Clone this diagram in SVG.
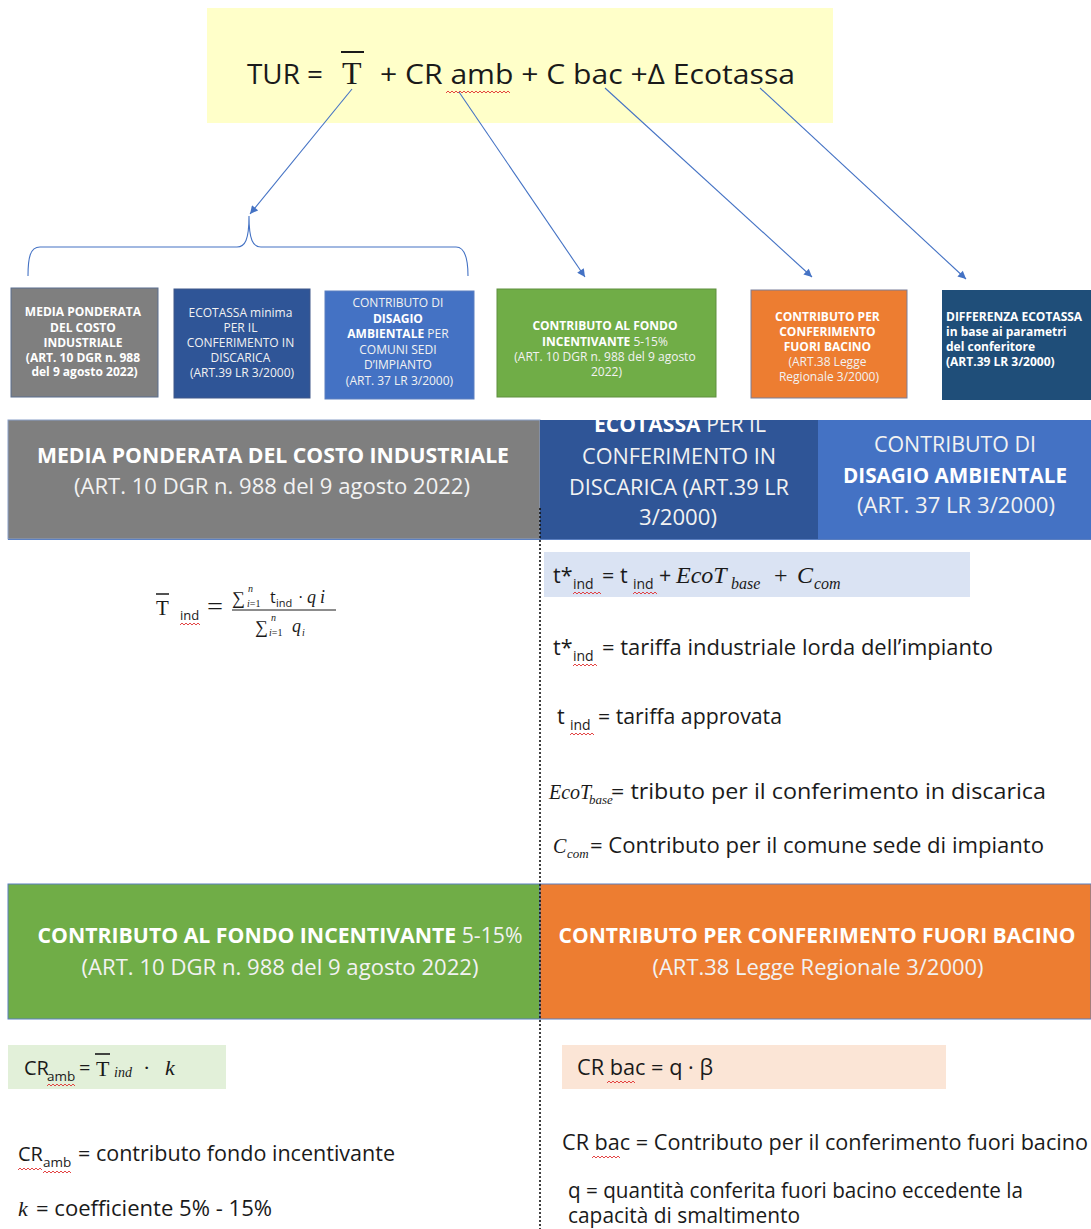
<svg xmlns="http://www.w3.org/2000/svg" width="1091" height="1229" viewBox="0 0 1091 1229">
<style>
.s{font-family:"Open Sans","Liberation Sans",sans-serif;}
.m{font-family:"Liberation Serif","DejaVu Serif",serif;}
.i{font-style:italic;}
.b{font-weight:bold;}
.w{fill:#ffffff;}
.wr{fill:#f2f2f2;}
.k{fill:#1a1a1a;}
.sq{fill:none;stroke:#e03030;stroke-width:0.9;}
.con{stroke:#4472C4;stroke-width:1.1;fill:none;}
.sm{font-size:12px;}
.hd{font-size:21.5px;}
.bd{font-size:21.5px;}
</style>
<defs>
<marker id="ah" viewBox="0 0 10 10" refX="10" refY="5" markerWidth="9" markerHeight="8" markerUnits="userSpaceOnUse" orient="auto">
<path d="M0,0 L10,5 L0,10 z" fill="#4472C4"/>
</marker>
<clipPath id="clipEco"><rect x="540" y="420" width="278" height="119"/></clipPath>
</defs>
<rect x="0" y="0" width="1091" height="1229" fill="#ffffff"/>

<g id="formula-top">
<rect x="207" y="8" width="626" height="115" fill="#FFFFC9"/>
<text class="s k" x="247" y="84" font-size="28" textLength="76" lengthAdjust="spacingAndGlyphs">TUR =</text>
<text class="m k" x="342" y="84" font-size="32">T</text>
<line x1="341" y1="52" x2="364" y2="52" stroke="#1a1a1a" stroke-width="2"/>
<text class="s k" x="380" y="84" font-size="27" textLength="415" lengthAdjust="spacingAndGlyphs">+ CR amb +  C bac +Δ Ecotassa</text>
<path class="sq" d="M446,93 l2,-2 l2,2 l2,-2 l2,2 l2,-2 l2,2 l2,-2 l2,2 l2,-2 l2,2 l2,-2 l2,2 l2,-2 l2,2 l2,-2 l2,2 l2,-2 l2,2 l2,-2 l2,2 l2,-2 l2,2 l2,-2 l2,2 l2,-2 l2,2 l2,-2 l2,2 l2,-2 l2,2 l2,-2 l2,2"/>
</g>

<g id="connectors">
<line class="con" x1="352" y1="89" x2="250" y2="214" marker-end="url(#ah)"/>
<line class="con" x1="459" y1="92" x2="585" y2="277" marker-end="url(#ah)"/>
<line class="con" x1="605" y1="88" x2="812" y2="277" marker-end="url(#ah)"/>
<line class="con" x1="760" y1="88" x2="966" y2="279" marker-end="url(#ah)"/>
<path class="con" d="M28,276 C28,258 30,247 40,247 L237,247 C245,247 249,240 249,216 C249,240 253,247 261,247 L456,247 C465,247 468,258 468,276"/>
</g>

<g id="box-media">
<rect x="11" y="288" width="147" height="109" fill="#7F7F7F" stroke="#5a6f90" stroke-width="1"/>
<text class="s b w sm" text-anchor="middle">
<tspan x="84.5" y="316">MEDIA PONDERATA</tspan>
<tspan x="84.5" y="331.5">DEL COSTO</tspan>
<tspan x="84.5" y="347">INDUSTRIALE</tspan>
<tspan x="84.5" y="361.5">(ART. 10 DGR n. 988</tspan>
<tspan x="84.5" y="376">del 9 agosto 2022)</tspan>
</text>
</g>

<g id="box-ecotassa">
<rect x="174" y="289" width="136" height="109" fill="#2F5597" stroke="#41598a" stroke-width="1"/>
<text class="s wr sm" text-anchor="middle">
<tspan x="242" y="317">ECOTASSA minima</tspan>
<tspan x="242" y="332">PER IL</tspan>
<tspan x="242" y="347">CONFERIMENTO IN</tspan>
<tspan x="242" y="361.5">DISCARICA</tspan>
<tspan x="242" y="376.5">(ART.39 LR 3/2000)</tspan>
</text>
</g>

<g id="box-disagio">
<rect x="325" y="291" width="149" height="108" fill="#4472C4" stroke="#5b7fc0" stroke-width="1"/>
<text class="s wr sm" text-anchor="middle">
<tspan x="399.5" y="307">CONTRIBUTO DI</tspan>
<tspan x="399.5" y="322.5" class="b w">DISAGIO</tspan>
<tspan x="399.5" y="338"><tspan class="b w">AMBIENTALE</tspan> PER</tspan>
<tspan x="399.5" y="353.5">COMUNI SEDI</tspan>
<tspan x="399.5" y="369">D’IMPIANTO</tspan>
<tspan x="399.5" y="384.5">(ART. 37 LR 3/2000)</tspan>
</text>
</g>

<g id="box-fondo">
<rect x="497" y="289" width="219" height="108" fill="#70AD47" stroke="#5e8f3e" stroke-width="1"/>
<text class="s wr sm" text-anchor="middle">
<tspan x="606.5" y="330" class="b w">CONTRIBUTO AL FONDO</tspan>
<tspan x="606.5" y="345.5"><tspan class="b w">INCENTIVANTE</tspan> 5-15%</tspan>
<tspan x="606.5" y="361">(ART. 10 DGR n. 988 del 9 agosto</tspan>
<tspan x="606.5" y="376">2022)</tspan>
</text>
</g>

<g id="box-bacino">
<rect x="751" y="290" width="156" height="108" fill="#ED7D31" stroke="#7a7f99" stroke-width="1"/>
<text class="s wr sm" text-anchor="middle">
<tspan x="829" y="321" class="b w">CONTRIBUTO PER</tspan>
<tspan x="829" y="336" class="b w">CONFERIMENTO</tspan>
<tspan x="829" y="351" class="b w">FUORI BACINO</tspan>
<tspan x="829" y="366">(ART.38 Legge</tspan>
<tspan x="829" y="381">Regionale 3/2000)</tspan>
</text>
</g>

<g id="box-differenza">
<rect x="942" y="290" width="149" height="110" fill="#1F4E79"/>
<text class="s b w sm">
<tspan x="946" y="321">DIFFERENZA ECOTASSA</tspan>
<tspan x="946" y="336">in base ai parametri</tspan>
<tspan x="946" y="351">del conferitore</tspan>
<tspan x="946" y="366">(ART.39 LR 3/2000)</tspan>
</text>
</g>

<g id="header-media">
<rect x="8" y="420" width="532" height="119" fill="#7F7F7F" stroke="#8aa0c8" stroke-width="1"/>
<text class="s b w hd" x="273" y="463" text-anchor="middle" textLength="472" lengthAdjust="spacingAndGlyphs">MEDIA PONDERATA DEL COSTO INDUSTRIALE</text>
<text class="s wr hd" x="272" y="494" text-anchor="middle" textLength="396" lengthAdjust="spacingAndGlyphs">(ART. 10 DGR n. 988 del 9 agosto 2022)</text>
</g>

<g id="header-ecotassa">
<rect x="540" y="420" width="278" height="119" fill="#2F5597"/>
<g clip-path="url(#clipEco)">
<text class="s wr hd" x="680" y="432" text-anchor="middle" textLength="172" lengthAdjust="spacingAndGlyphs"><tspan class="b w">ECOTASSA</tspan> PER IL</text>
<text class="s wr hd" x="679" y="464" text-anchor="middle" textLength="194" lengthAdjust="spacingAndGlyphs">CONFERIMENTO IN</text>
<text class="s wr hd" x="679" y="495" text-anchor="middle" textLength="220" lengthAdjust="spacingAndGlyphs">DISCARICA (ART.39 LR</text>
<text class="s wr hd" x="678" y="525" text-anchor="middle" textLength="78" lengthAdjust="spacingAndGlyphs">3/2000)</text>
</g>
</g>

<g id="header-disagio">
<rect x="818" y="420" width="273" height="119" fill="#4472C4"/>
<text class="s wr hd" x="955" y="452" text-anchor="middle" textLength="162" lengthAdjust="spacingAndGlyphs">CONTRIBUTO DI</text>
<text class="s b w hd" x="955" y="483" text-anchor="middle" textLength="224" lengthAdjust="spacingAndGlyphs">DISAGIO AMBIENTALE</text>
<text class="s wr hd" x="956" y="513" text-anchor="middle" textLength="198" lengthAdjust="spacingAndGlyphs">(ART. 37 LR 3/2000)</text>
</g>
<line x1="8" y1="539.5" x2="1091" y2="539.5" stroke="#5b7fc0" stroke-width="1.2"/>

<g id="formula-media">
<text class="m k" x="156" y="615" font-size="21">T</text>
<line x1="156" y1="594" x2="169" y2="594" stroke="#1a1a1a" stroke-width="1.5"/>
<text class="s k" x="180" y="620" font-size="13">ind</text>
<path class="sq" d="M180,625 l2,-2 l2,2 l2,-2 l2,2 l2,-2 l2,2 l2,-2 l2,2 l2,-2 l2,2"/>
<text class="m k" x="207" y="614" font-size="24" textLength="16" lengthAdjust="spacingAndGlyphs">=</text>
<text class="m k" x="232" y="604" font-size="18">∑</text>
<text class="m k i" x="248" y="592" font-size="10">n</text>
<text class="m k" x="247" y="607" font-size="10"><tspan class="i">i</tspan>=1</text>
<text class="s k" x="270" y="603" font-size="16">t</text>
<text class="s k" x="276" y="607" font-size="11">ind</text>
<text class="m k" x="298" y="603" font-size="16">·</text>
<text class="m k i" x="307" y="603" font-size="18" letter-spacing="4">qi</text>
<line x1="232" y1="610" x2="336" y2="610" stroke="#1a1a1a" stroke-width="1"/>
<text class="m k" x="255" y="633" font-size="18">∑</text>
<text class="m k i" x="271" y="621" font-size="10">n</text>
<text class="m k" x="269" y="636" font-size="10"><tspan class="i">i</tspan>=1</text>
<text class="m k i" x="292" y="632" font-size="18">q</text>
<text class="m k i" x="302" y="636" font-size="10">i</text>
</g>

<g id="formula-ecotassa">
<rect x="544" y="552" width="426" height="45" fill="#DAE3F3"/>
<text class="s k bd" x="553" y="583">t*</text>
<text class="s k" x="573" y="589" font-size="14">ind</text>
<text class="s k bd" x="602" y="583">= t</text>
<text class="s k" x="633" y="589" font-size="14">ind</text>
<text class="s k bd" x="659" y="583">+</text>
<text class="m k i" x="676" y="583" font-size="24">EcoT</text>
<text class="m k i" x="731" y="589" font-size="16">base</text>
<text class="m k" x="774" y="583" font-size="24">+</text>
<text class="m k i" x="797" y="583" font-size="24">C</text>
<text class="m k i" x="814" y="589" font-size="16">com</text>
<path class="sq" d="M573,594 l2,-2 l2,2 l2,-2 l2,2 l2,-2 l2,2 l2,-2 l2,2 l2,-2 l2,2 l2,-2 l2,2 l2,-2 l2,2"/>
<path class="sq" d="M633,594 l2,-2 l2,2 l2,-2 l2,2 l2,-2 l2,2 l2,-2 l2,2 l2,-2 l2,2 l2,-2 l2,2"/>

<text class="s k bd" x="553" y="655">t*</text>
<text class="s k" x="573" y="661" font-size="14">ind</text>
<text class="s k bd" x="602" y="655" textLength="391" lengthAdjust="spacingAndGlyphs">= tariffa industriale lorda dell’impianto</text>
<path class="sq" d="M573,666 l2,-2 l2,2 l2,-2 l2,2 l2,-2 l2,2 l2,-2 l2,2 l2,-2 l2,2 l2,-2 l2,2"/>

<text class="s k bd" x="557" y="724">t</text>
<text class="s k" x="570" y="730" font-size="14">ind</text>
<text class="s k bd" x="598" y="724" textLength="184" lengthAdjust="spacingAndGlyphs">= tariffa approvata</text>
<path class="sq" d="M570,735 l2,-2 l2,2 l2,-2 l2,2 l2,-2 l2,2 l2,-2 l2,2 l2,-2 l2,2 l2,-2 l2,2"/>

<text class="m k i" x="549" y="799" font-size="20">EcoT</text>
<text class="m k i" x="589" y="804" font-size="13">base</text>
<text class="s k bd" x="611" y="799" textLength="435" lengthAdjust="spacingAndGlyphs">= tributo per il conferimento in discarica</text>

<text class="m k i" x="553" y="853" font-size="20">C</text>
<text class="m k i" x="567" y="858" font-size="13">com</text>
<text class="s k bd" x="590" y="853" textLength="454" lengthAdjust="spacingAndGlyphs">= Contributo per il comune sede di impianto</text>
</g>

<g id="header-fondo">
<rect x="8" y="884" width="532" height="135" fill="#70AD47" stroke="#5b7fc0" stroke-width="1"/>
<text class="s wr hd" x="280" y="943" text-anchor="middle" textLength="485" lengthAdjust="spacingAndGlyphs"><tspan class="b w">CONTRIBUTO AL FONDO INCENTIVANTE</tspan> 5-15%</text>
<text class="s wr hd" x="280" y="975" text-anchor="middle" textLength="397" lengthAdjust="spacingAndGlyphs">(ART. 10 DGR n. 988 del 9 agosto 2022)</text>
</g>

<g id="header-bacino">
<rect x="540" y="884" width="551" height="135" fill="#ED7D31" stroke="#5b7fc0" stroke-width="1"/>
<text class="s b w hd" x="817" y="943" text-anchor="middle" textLength="517" lengthAdjust="spacingAndGlyphs">CONTRIBUTO PER CONFERIMENTO FUORI BACINO</text>
<text class="s wr hd" x="818" y="975" text-anchor="middle" textLength="331" lengthAdjust="spacingAndGlyphs">(ART.38 Legge Regionale 3/2000)</text>
</g>

<g id="formula-fondo">
<rect x="8" y="1045" width="218" height="44" fill="#E2F0D9"/>
<text class="s k" x="24" y="1075" font-size="20">CR</text>
<text class="s k" x="47" y="1081" font-size="13.5">amb</text>
<text class="s k" x="79" y="1075" font-size="20">=</text>
<text class="m k" x="96" y="1076" font-size="22">T</text>
<line x1="95" y1="1054" x2="110" y2="1054" stroke="#1a1a1a" stroke-width="1.6"/>
<text class="m k i" x="114" y="1077" font-size="14">ind</text>
<text class="m k" x="143" y="1075" font-size="22">·</text>
<text class="m k i" x="165" y="1075" font-size="22">k</text>
<path class="sq" d="M47,1086 l2,-2 l2,2 l2,-2 l2,2 l2,-2 l2,2 l2,-2 l2,2 l2,-2 l2,2 l2,-2 l2,2 l2,-2 l2,2"/>

<text class="s k" x="18" y="1161" font-size="20">CR</text>
<text class="s k" x="43" y="1167" font-size="13.5">amb</text>
<text class="s k bd" x="78" y="1161" textLength="317" lengthAdjust="spacingAndGlyphs">= contributo fondo incentivante</text>
<path class="sq" d="M18,1170 l2,-2 l2,2 l2,-2 l2,2 l2,-2 l2,2 l2,-2 l2,2 l2,-2 l2,2 l2,-2 l2,2"/>
<path class="sq" d="M43,1173 l2,-2 l2,2 l2,-2 l2,2 l2,-2 l2,2 l2,-2 l2,2 l2,-2 l2,2 l2,-2 l2,2 l2,-2 l2,2"/>

<text class="m k i" x="18" y="1216" font-size="22">k</text>
<text class="s k bd" x="36" y="1216" textLength="236" lengthAdjust="spacingAndGlyphs">= coefficiente 5% - 15%</text>
</g>

<g id="formula-bacino">
<rect x="562" y="1045" width="384" height="44" fill="#FBE5D6"/>
<text class="s k bd" x="577" y="1075" textLength="136" lengthAdjust="spacingAndGlyphs">CR bac = q · β</text>
<path class="sq" d="M607,1083 l2,-2 l2,2 l2,-2 l2,2 l2,-2 l2,2 l2,-2 l2,2 l2,-2 l2,2 l2,-2 l2,2 l2,-2 l2,2"/>
<text class="s k bd" x="562" y="1150" textLength="526" lengthAdjust="spacingAndGlyphs">CR bac = Contributo per il conferimento fuori bacino</text>
<path class="sq" d="M592,1158 l2,-2 l2,2 l2,-2 l2,2 l2,-2 l2,2 l2,-2 l2,2 l2,-2 l2,2 l2,-2 l2,2 l2,-2 l2,2"/>
<text class="s k bd" x="568" y="1198" textLength="455" lengthAdjust="spacingAndGlyphs">q = quantità conferita fuori bacino eccedente la</text>
<text class="s k bd" x="568" y="1223" textLength="232" lengthAdjust="spacingAndGlyphs">capacità di smaltimento</text>
</g>

<line id="divider" x1="540" y1="508" x2="540" y2="1229" stroke="#111111" stroke-width="1.6" stroke-dasharray="2,2"/>
</svg>
